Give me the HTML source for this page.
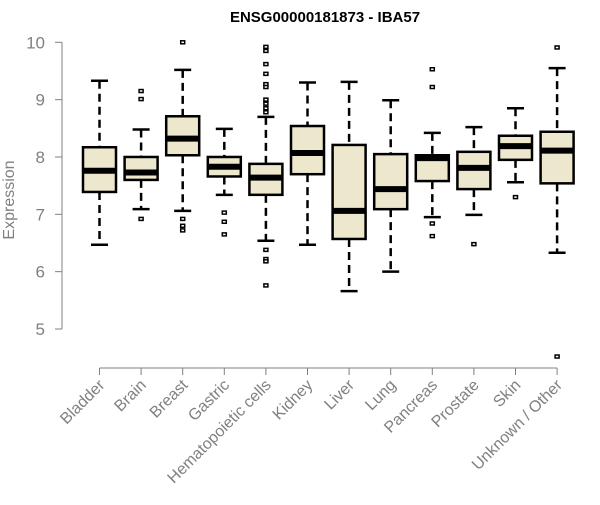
<!DOCTYPE html>
<html><head><meta charset="utf-8"><style>
body{margin:0;background:#fff;}
svg text{font-family:"Liberation Sans",sans-serif;}
</style></head><body>
<svg id="chart" width="600" height="500" xmlns="http://www.w3.org/2000/svg">
<text x="325" y="22" text-anchor="middle" font-weight="bold" font-size="15" fill="#000">ENSG00000181873 - IBA57</text>
<text transform="translate(14,200) rotate(-90)" text-anchor="middle" font-size="16" fill="#808080">Expression</text>
<g id="plot"></g>
</svg>
<script>
const categories=["Bladder","Brain","Breast","Gastric","Hematopoietic cells","Kidney","Liver","Lung","Pancreas","Prostate","Skin","Unknown / Other"];
const whiskerLow=[6.47,7.09,7.06,7.34,6.54,6.47,5.66,6.0,6.95,6.99,7.56,6.33];
const q1=[7.39,7.6,8.03,7.66,7.34,7.70,6.57,7.09,7.58,7.44,7.95,7.54];
const medians=[7.76,7.73,8.32,7.83,7.64,8.07,7.06,7.44,7.98,7.81,8.19,8.11];
const q3=[8.17,8.0,8.71,8.0,7.88,8.54,8.21,8.05,8.03,8.09,8.37,8.44];
const whiskerHigh=[9.33,8.48,9.52,8.49,8.70,9.30,9.31,8.99,8.42,8.52,8.85,9.55];
const outliers=[[],[9.15,9.01,6.92],[10.0,6.92,6.8,6.72],[7.03,6.87,6.65],[9.92,9.85,9.62,9.45,9.27,9.22,9.0,8.93,8.85,8.78,6.38,6.22,6.18,5.76],[],[],[],[9.53,9.22,6.84,6.62],[6.48],[7.30],[9.91,4.52]];
const yTicks=[5,6,7,8,9,10];

const NS="http://www.w3.org/2000/svg";
const g=document.getElementById('plot');
const yS=v=>42.3+(10-v)*57.34;
const xS=i=>99.5+i*41.6;
function mk(tag,attrs,parent){const e=document.createElementNS(NS,tag);for(const k in attrs)e.setAttribute(k,attrs[k]);(parent||g).appendChild(e);return e;}

const ya=mk('g',{});


mk('line',{x1:62,x2:62,y1:yS(10),y2:yS(5),stroke:'#808080','stroke-width':1},ya);
yTicks.forEach(t=>{
  mk('line',{x1:55,x2:62,y1:yS(t),y2:yS(t),stroke:'#808080'},ya);
  const tx=mk('text',{x:45,y:yS(t)+6,'text-anchor':'end','font-size':17,fill:'#808080'},ya);
  tx.textContent=t;
  
  
});
const xa=mk('g',{});


mk('line',{x1:xS(0),x2:xS(categories.length-1),y1:368,y2:368,stroke:'#808080'},xa);
categories.forEach((c,i)=>{
  mk('line',{x1:xS(i),x2:xS(i),y1:368,y2:375,stroke:'#808080'},xa);
  const tx=mk('text',{transform:`translate(${xS(i)+6},${386}) rotate(-45)`,'text-anchor':'end','font-size':16,fill:'#808080'},xa);
  tx.textContent=c;
  
  
});
categories.forEach((c,i)=>{
  const x=xS(i),hw=16.5;
  const b=mk('g',{});
  
  
  mk('line',{x1:x,x2:x,y1:yS(whiskerHigh[i]),y2:yS(q3[i]),stroke:'#000','stroke-width':2.5,'stroke-dasharray':'8,5'},b);
  mk('line',{x1:x,x2:x,y1:yS(q1[i]),y2:yS(whiskerLow[i]),stroke:'#000','stroke-width':2.5,'stroke-dasharray':'8,5'},b);
  mk('line',{x1:x-8.5,x2:x+8.5,y1:yS(whiskerHigh[i]),y2:yS(whiskerHigh[i]),stroke:'#000','stroke-width':2.5},b);
  mk('line',{x1:x-8.5,x2:x+8.5,y1:yS(whiskerLow[i]),y2:yS(whiskerLow[i]),stroke:'#000','stroke-width':2.5},b);
  mk('rect',{x:x-hw,y:yS(q3[i]),width:2*hw,height:yS(q1[i])-yS(q3[i]),fill:'#ede7cd',stroke:'#000','stroke-width':2.5},b);
  mk('line',{x1:x-hw,x2:x+hw,y1:yS(medians[i]),y2:yS(medians[i]),stroke:'#000','stroke-width':6},b);
  outliers[i].forEach(o=>{
    mk('rect',{x:x-2,y:yS(o)-1.5,width:4,height:3,fill:'#fff',stroke:'#000','stroke-width':1.5},b);
  });
});
</script>
</body></html>
